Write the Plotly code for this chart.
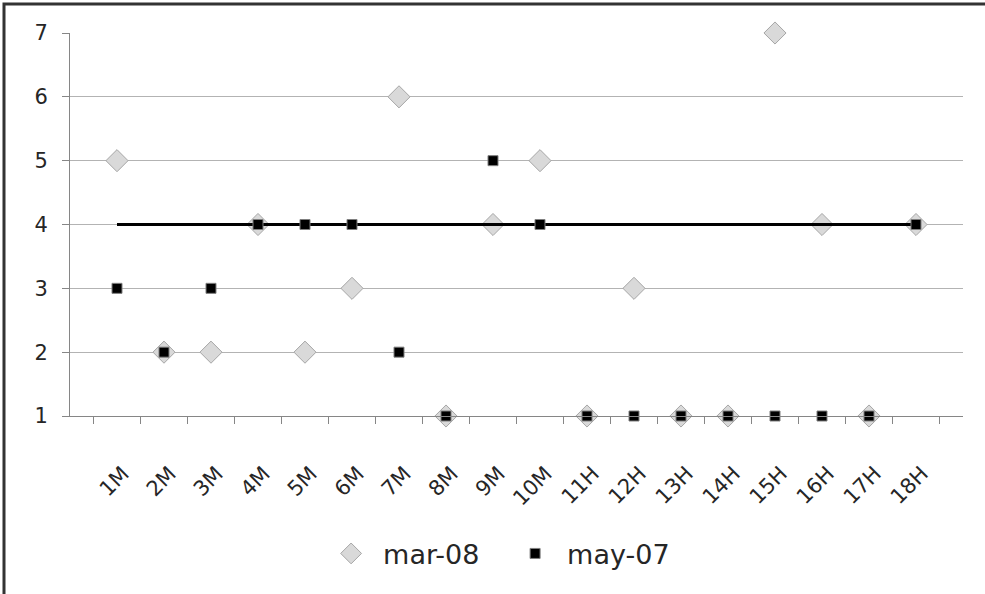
import plotly.graph_objects as go

categories = ["1M", "2M", "3M", "4M", "5M", "6M", "7M", "8M", "9M", "10M",
              "11H", "12H", "13H", "14H", "15H", "16H", "17H", "18H"]
mar_08 = [5, 2, 2, 4, 2, 3, 6, 1, 4, 5, 1, 3, 1, 1, 7, 4, 1, 4]
may_07 = [3, 2, 3, 4, 4, 4, 2, 1, 5, 4, 1, 1, 1, 1, 1, 1, 1, 4]
reference = [4] * 18
y_ticks = [1, 2, 3, 4, 5, 6, 7]

xpos = list(range(1, len(categories) + 1))

fig = go.Figure()
fig.add_trace(go.Scatter(
    x=xpos, y=mar_08, mode="markers", name="mar-08",
    marker=dict(symbol="diamond", size=17, color="#d9d9d9",
                line=dict(color="#a6a6a6", width=1)),
    cliponaxis=False,
))
fig.add_trace(go.Scatter(
    x=xpos, y=reference, mode="lines", showlegend=False,
    line=dict(color="black", width=3),
))
fig.add_trace(go.Scatter(
    x=xpos, y=may_07, mode="markers", name="may-07",
    marker=dict(symbol="square", size=10, color="black",
                line=dict(color="#7f7f7f", width=1)),
    cliponaxis=False,
))

fig.update_layout(
    width=985, height=594,
    margin=dict(l=70, r=22, t=33, b=178),
    paper_bgcolor="white", plot_bgcolor="white",
    font=dict(family="'DejaVu Sans', sans-serif", color="#262626", size=21),
    legend=dict(orientation="h", x=0.485, xanchor="center", y=-0.36,
                yanchor="middle", font=dict(size=27, color="#262626"),
                itemwidth=54, entrywidth=115),
    xaxis=dict(
        range=[0, 19], tickvals=xpos, ticktext=categories, tickangle=-45,
        ticks="", showgrid=False, zeroline=False,
        showline=True, linecolor="#868686", linewidth=1,
        minor=dict(tick0=0.5, dtick=1, ticks="outside", ticklen=7,
                   tickcolor="#868686", showgrid=False),
        tickfont=dict(size=21), ticklabelstandoff=36, ticklabelshift=6,
    ),
    yaxis=dict(
        range=[1, 7], tickvals=y_ticks, ticks="outside", ticklen=7,
        tickcolor="#868686", showgrid=True, gridcolor="#b3b3b3", gridwidth=1,
        zeroline=False, showline=True, linecolor="#868686", linewidth=1,
        tickfont=dict(size=21), ticklabelstandoff=10,
    ),
    shapes=[
        dict(type="rect", xref="paper", yref="paper",
             x0=(4 - 70) / 893, x1=(1000 - 70) / 893,
             y0=(416 - 620) / 383, y1=(416 - 4) / 383,
             line=dict(color="#333333", width=3), fillcolor="rgba(0,0,0,0)",
             layer="below"),
    ],
)

fig.write_html("out.html")
